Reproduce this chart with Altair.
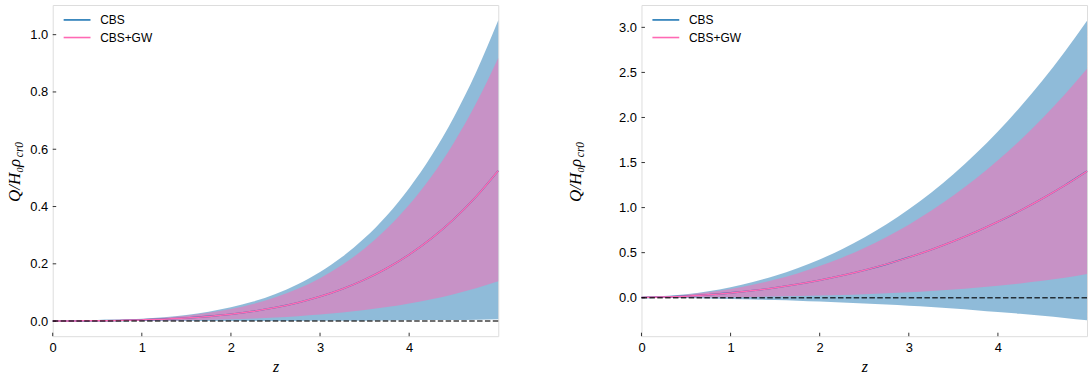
import altair as alt
import pandas as pd

# ---------------- data ----------------
z = [0, 0.25, 0.5, 0.75, 1, 1.25, 1.5, 1.75, 2, 2.25, 2.5, 2.75,
     3, 3.25, 3.5, 3.75, 4, 4.25, 4.5, 4.75, 5]

# left panel
left_mean = [0.0003, 0.0007, 0.0013, 0.0024, 0.0042, 0.0069, 0.0109, 0.0165, 0.0241, 0.0342, 0.0474,
             0.0644, 0.0857, 0.1123, 0.1449, 0.1845, 0.2321, 0.2886, 0.3555, 0.4339, 0.525]
left_cbs_hi = [0.0006, 0.0014, 0.0026, 0.0048, 0.0084, 0.0138, 0.0218, 0.033, 0.0482, 0.0684, 0.0948,
               0.1288, 0.1714, 0.2246, 0.2898, 0.369, 0.4642, 0.5772, 0.711, 0.8678, 1.05]
left_cbs_lo = [0, 0, 0, 0, 0.0001, 0.0001, 0.0001, 0.0002, 0.0003, 0.0004, 0.0006,
               0.0008, 0.001, 0.0013, 0.0017, 0.0022, 0.0028, 0.0035, 0.0043, 0.0052, 0.0063]
left_gw_hi = [0.0005, 0.0012, 0.0023, 0.0042, 0.0074, 0.0121, 0.0191, 0.0289, 0.0422, 0.0599, 0.0830,
              0.1127, 0.1500, 0.1965, 0.2536, 0.3229, 0.4062, 0.5051, 0.6221, 0.7593, 0.9188]
left_gw_lo = [0.0001, 0.0002, 0.0003, 0.0006, 0.0011, 0.0018, 0.0029, 0.0044, 0.0064, 0.0091, 0.0126,
              0.0171, 0.0227, 0.0298, 0.0384, 0.0489, 0.0615, 0.0765, 0.0942, 0.1150, 0.1391]

# right panel
right_mean = [0.003, 0.008, 0.0175, 0.0329, 0.0534, 0.0793, 0.1111, 0.1491, 0.1938, 0.2456, 0.3050,
              0.3723, 0.4480, 0.5324, 0.6260, 0.7292, 0.8425, 0.9661, 1.1007, 1.2464, 1.4039]
right_cbs_hi = [0.008, 0.018, 0.0383, 0.0721, 0.1169, 0.1737, 0.2433, 0.3265, 0.4244, 0.5379, 0.6680,
                0.8153, 0.9811, 1.1660, 1.3709, 1.5969, 1.8451, 2.1158, 2.4105, 2.7296, 3.0745]
right_cbs_lo = [0.0, -0.001, -0.004, -0.008, -0.013, -0.019, -0.026, -0.034, -0.043, -0.053, -0.064,
                -0.076, -0.089, -0.103, -0.12, -0.138, -0.158, -0.178, -0.2, -0.224, -0.25]
right_gw_hi = [0.006, 0.0125, 0.0317, 0.0595, 0.0967, 0.1435, 0.2011, 0.2699, 0.3508, 0.4445, 0.5521,
               0.6739, 0.8109, 0.9636, 1.1331, 1.3199, 1.5249, 1.7486, 1.9923, 2.2560, 2.5411]
right_gw_lo = [0.0, 0.0007, 0.0019, 0.0037, 0.006, 0.0091, 0.013, 0.0178, 0.0236, 0.0307, 0.0393,
               0.0494, 0.0614, 0.0754, 0.0919, 0.111, 0.1331, 0.1586, 0.188, 0.2215, 0.262]

x_ticks = [0, 1, 2, 3, 4]
left_y_ticks = [0.0, 0.2, 0.4, 0.6, 0.8, 1.0]
right_y_ticks = [0.0, 0.5, 1.0, 1.5, 2.0, 2.5, 3.0]
left_y_domain = [-0.0526, 1.1035]
right_y_domain = [-0.427, 3.248]
x_domain = [0, 5]
series = ["CBS", "CBS+GW"]
series_colors = ["#1f77b4", "#ff69b4"]
y_title_main = "Q/H₀ρ"
y_title_sub = "cr0"

W, H = 448, 333
SANS = "Liberation Sans"
SERIF = "Liberation Serif"


def panel(mean, cbs_lo, cbs_hi, gw_lo, gw_hi, ydom, yticks, title_x):
    df = pd.DataFrame({"z": z, "cbs_lo": cbs_lo, "cbs_hi": cbs_hi,
                       "gw_lo": gw_lo, "gw_hi": gw_hi})
    lines = pd.DataFrame({
        "z": z + z,
        "q": mean + mean,
        "series": [series[0]] * len(z) + [series[1]] * len(z),
    })
    xs = alt.Scale(domain=x_domain, nice=False, zero=False)
    ys = alt.Scale(domain=ydom, nice=False, zero=False)
    cs = alt.Scale(domain=series, range=series_colors)
    xax = alt.Axis(values=x_ticks, format="d", title="z", ticks=False, domain=False,
                   grid=False, labelPadding=5, labelFont=SANS, labelFontSize=13,
                   labelColor="black", titleFont=SERIF, titleFontStyle="italic",
                   titleFontWeight="normal", titleFontSize=16, titleColor="black",
                   titlePadding=5, labelFlush=False)
    yax = alt.Axis(values=yticks, format=".1f", title=None, ticks=False, domain=False,
                   grid=False, labelPadding=5, labelFont=SANS, labelFontSize=13,
                   labelColor="black", labelFlush=False)

    base = alt.Chart(df)
    band_cbs = base.mark_area(color=series_colors[0], opacity=0.5, interpolate="monotone").encode(
        x=alt.X("z:Q", scale=xs, axis=xax),
        y=alt.Y("cbs_lo:Q", scale=ys, axis=yax),
        y2="cbs_hi:Q",
    )
    band_gw = base.mark_area(color=series_colors[1], opacity=0.5, interpolate="monotone").encode(
        x=alt.X("z:Q", scale=xs),
        y=alt.Y("gw_lo:Q", scale=ys),
        y2="gw_hi:Q",
    )
    line = alt.Chart(lines).mark_line(interpolate="monotone").encode(
        x=alt.X("z:Q", scale=xs),
        y=alt.Y("q:Q", scale=ys),
        color=alt.Color("series:N", scale=cs, legend=None),
        strokeWidth=alt.StrokeWidth("series:N",
                                    scale=alt.Scale(domain=series, range=[1.6, 1.5]),
                                    legend=None),
    )
    zero = alt.Chart(pd.DataFrame({"v": [0.0]})).mark_rule(
        color="black", opacity=0.75, strokeWidth=1.5, strokeDash=[5.5, 2.4]
    ).encode(y=alt.Y("v:Q", scale=ys))

    xt = alt.Chart(pd.DataFrame({"t": x_ticks})).mark_rule(color="black", strokeWidth=0.8).encode(
        x=alt.X("t:Q", scale=xs), y=alt.value(H), y2=alt.value(H - 3.5))
    yt = alt.Chart(pd.DataFrame({"t": yticks})).mark_rule(color="black", strokeWidth=0.8).encode(
        y=alt.Y("t:Q", scale=ys), x=alt.value(0), x2=alt.value(3.5))

    t_main = alt.Chart(pd.DataFrame({"t": [y_title_main]})).mark_text(
        angle=270, align="left", baseline="alphabetic", font=SERIF, fontStyle="italic",
        fontSize=17, color="black").encode(x=alt.value(title_x), y=alt.value(198), text="t:N")
    t_sub = alt.Chart(pd.DataFrame({"t": [y_title_sub]})).mark_text(
        angle=270, align="left", baseline="alphabetic", font=SERIF, fontStyle="italic",
        fontSize=11.5, color="black").encode(x=alt.value(title_x + 3), y=alt.value(153), text="t:N")

    # legend (upper left, no frame)
    legend_layers = []
    for i, name in enumerate(series):
        ldf = pd.DataFrame({"series": [name]})
        ly = 15 + 17.7 * i
        legend_layers.append(alt.Chart(ldf).mark_rule(strokeWidth=1.6).encode(
            x=alt.value(11), x2=alt.value(38), y=alt.value(ly),
            color=alt.Color("series:N", scale=cs, legend=None)))
        legend_layers.append(alt.Chart(ldf).mark_text(
            align="left", baseline="middle", font=SANS, fontSize=12, color="black").encode(
            x=alt.value(47.7), y=alt.value(ly), text="series:N"))

    return alt.layer(band_cbs, band_gw, line, zero, xt, yt, t_main, t_sub,
                     *legend_layers).properties(width=W, height=H)


left = panel(left_mean, left_cbs_lo, left_cbs_hi, left_gw_lo, left_gw_hi,
             left_y_domain, left_y_ticks, -33)
right = panel(right_mean, right_cbs_lo, right_cbs_hi, right_gw_lo, right_gw_hi,
              right_y_domain, right_y_ticks, -61)

chart = alt.hconcat(left, right, spacing=144, bounds="flush").resolve_scale(
    color="independent", strokeWidth="independent"
).properties(
    padding={"left": 5, "top": 3, "right": 0, "bottom": 0}
).configure_view(stroke="#111111", strokeWidth=1.2).configure(background="white")

chart.save("out.html", embed_options={"renderer": "svg", "actions": False})
